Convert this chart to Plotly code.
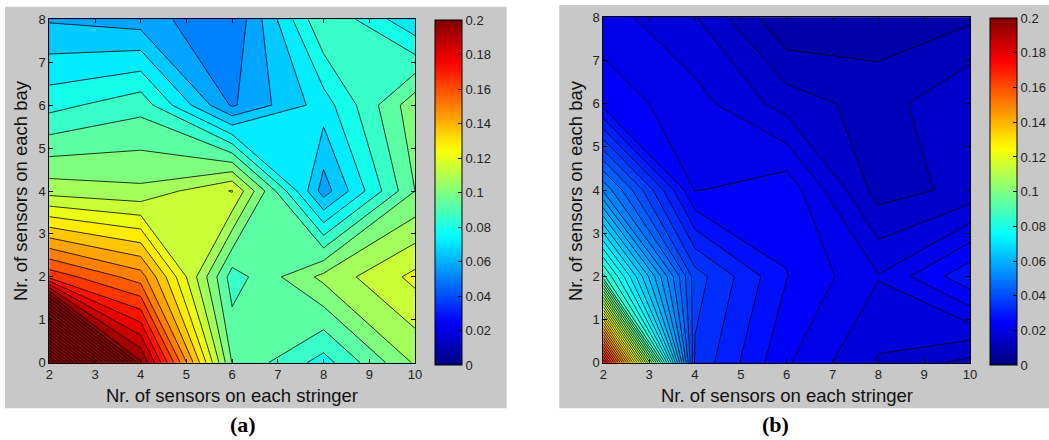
import numpy as np
import plotly.graph_objects as go

# ---------------- data ----------------
stringer_sensors = [2, 4, 6, 8, 10]          # x
bay_sensors = [0, 2, 4, 6, 8]                # y

# panel (a): rows follow bay_sensors (0, 2, 4, 6, 8)
za_bay0 = [0.350, 0.198, 0.0986, 0.082, 0.107]
za_bay2 = [0.1668, 0.1514, 0.0885, 0.108, 0.122]
za_bay4 = [0.110, 0.1076, 0.1205, 0.0605, 0.099]
za_bay6 = [0.0825, 0.0895, 0.056, 0.0745, 0.1037]
za_bay8 = [0.0632, 0.0605, 0.0505, 0.092, 0.072]

# panel (b)
zb_bay0 = [0.1744, 0.0361, 0.0244, 0.0172, 0.0134]
zb_bay2 = [0.0858, 0.0383, 0.0273, 0.0210, 0.0296]
zb_bay4 = [0.0522, 0.0238, 0.0262, 0.0130, 0.0153]
zb_bay6 = [0.0259, 0.0221, 0.0162, 0.0129, 0.0175]
zb_bay8 = [0.0223, 0.0178, 0.0082, 0.0094, 0.0106]

# contour levels (start, end, step)
levels_a = (0.043, 0.400, 0.007)
levels_b = (0.008, 0.200, 0.0032)

cbar_ticks = [0, 0.02, 0.04, 0.06, 0.08, 0.1, 0.12, 0.14, 0.16, 0.18, 0.2]
cbar_labels = ["0", "0.02", "0.04", "0.06", "0.08", "0.1", "0.12", "0.14", "0.16", "0.18", "0.2"]
x_ticks = [2, 3, 4, 5, 6, 7, 8, 9, 10]
y_ticks = [0, 1, 2, 3, 4, 5, 6, 7, 8]
x_title = "Nr. of sensors on each stringer"
y_title = "Nr. of sensors on each bay"
panel_labels = ["(a)", "(b)"]
CMIN, CMAX = 0.0, 0.2

# ---------------- helpers ----------------
W, H = 1049, 440


def jet(t):
    t = min(max(t, 0.0), 1.0)
    r = min(max(1.5 - abs(4 * t - 3), 0), 1)
    g = min(max(1.5 - abs(4 * t - 2), 0), 1)
    b = min(max(1.5 - abs(4 * t - 1), 0), 1)
    return "rgb(%d,%d,%d)" % (round(r * 255), round(g * 255), round(b * 255))


def jet_scale(n=64):
    return [[i / (n - 1), jet(i / (n - 1))] for i in range(n)]


def band_scale(start, end, size):
    # plotly fills the band above level L with colormap(L + size/2), the
    # colorscale spanning [start - size/2, end + size/2]; give each band the
    # jet colour of its lower level (MATLAB contourf behaviour)
    nc = int(np.floor((end + size * 1e-6 - start) / size)) + 1
    stops = [[0.0, jet((start - size - CMIN) / (CMAX - CMIN))]]
    for i in range(nc):
        lev = start + i * size
        stops.append([(i + 1) / (nc + 1), jet((lev - CMIN) / (CMAX - CMIN))])
    stops.append([1.0, jet((start + (nc - 1) * size - CMIN) / (CMAX - CMIN))])
    return stops


def px_x(p):
    return p / W


def px_y(p):
    return 1 - p / H


fig = go.Figure()

panels = [
    dict(z=[za_bay0, za_bay2, za_bay4, za_bay6, za_bay8], lev=levels_a,
         xd=(49.3, 415.0), yd=(19.3, 362.7), cb=(435.0, 20.0, 365.0),
         bg=(5, 6.7, 506.7, 408.3), xt=232, yt=20, lab=242.7),
    dict(z=[zb_bay0, zb_bay2, zb_bay4, zb_bay6, zb_bay8], lev=levels_b,
         xd=(603.3, 970.0), yd=(17.3, 362.7), cb=(990.0, 18.3, 365.0),
         bg=(559.3, 5, 1049, 408.3), xt=786.7, yt=575, lab=775.7),
]

shapes = []
annotations = []
tick_font = dict(family="Liberation Sans, Arial, sans-serif", size=13, color="#222222")
title_font = dict(family="Liberation Sans, Arial, sans-serif", size=18.5, color="#111111")

for k, p in enumerate(panels):
    sfx = "" if k == 0 else str(k + 1)
    start, end, size = p["lev"]
    fig.add_trace(go.Contour(
        x=stringer_sensors, y=bay_sensors, z=p["z"],
        xaxis="x" + sfx, yaxis="y" + sfx,
        autocontour=False,
        contours=dict(start=start, end=end, size=size, coloring="fill", showlines=True),
        colorscale=band_scale(start, end, size),
        line=dict(color="black", width=0.8, smoothing=0),
        showscale=False, hoverinfo="skip",
    ))
    # colorbar carrier (invisible marker)
    cbx, cbt, cbb = p["cb"]
    fig.add_trace(go.Scatter(
        x=[6], y=[4], mode="markers", xaxis="x" + sfx, yaxis="y" + sfx,
        marker=dict(size=1, opacity=0, color=[0.1], cmin=CMIN, cmax=CMAX,
                    colorscale=jet_scale(), showscale=True,
                    colorbar=dict(
                        x=px_x(cbx), xanchor="left", xpad=0,
                        y=px_y((cbt + cbb) / 2), yanchor="middle", ypad=0,
                        lenmode="pixels", len=cbb - cbt,
                        thicknessmode="pixels", thickness=27,
                        outlinewidth=1, outlinecolor="black",
                        ticks="inside", ticklen=4, tickcolor="black",
                        tickvals=cbar_ticks, ticktext=cbar_labels,
                        tickfont=tick_font,
                    )),
        hoverinfo="skip", showlegend=False,
    ))
    x0, x1 = p["xd"]
    y0, y1 = p["yd"]
    axis_common = dict(showline=True, linecolor="black", linewidth=1, mirror="ticks",
                       ticks="inside", ticklen=4, tickcolor="black", showgrid=False,
                       zeroline=False, tickfont=tick_font, automargin=False)
    fig.update_layout({
        "xaxis" + sfx: dict(domain=[px_x(x0), px_x(x1)], range=[2, 10], tickvals=x_ticks,
                            anchor="y" + sfx, **axis_common),
        "yaxis" + sfx: dict(domain=[px_y(y1), px_y(y0)], range=[0, 8], tickvals=y_ticks,
                            anchor="x" + sfx, **axis_common),
    })
    bx0, by0, bx1, by1 = p["bg"]
    shapes.append(dict(type="rect", xref="paper", yref="paper", layer="below",
                       x0=px_x(bx0), x1=px_x(bx1), y0=px_y(by1), y1=px_y(by0),
                       fillcolor="#c8c8c8", line=dict(width=0)))
    annotations.append(dict(text=x_title, xref="paper", yref="paper",
                            x=px_x(p["xt"]), y=px_y(395), xanchor="center", yanchor="middle",
                            showarrow=False, font=title_font))
    annotations.append(dict(text=y_title, xref="paper", yref="paper", textangle=-90,
                            x=px_x(p["yt"]), y=px_y(191), xanchor="center", yanchor="middle",
                            showarrow=False, font=title_font))
    annotations.append(dict(text="<b>%s</b>" % panel_labels[k], xref="paper", yref="paper",
                            x=px_x(p["lab"]), y=px_y(424), xanchor="center", yanchor="middle",
                            showarrow=False,
                            font=dict(family="Liberation Serif, Times New Roman, serif", size=22,
                                      color="black")))

fig.update_layout(width=W, height=H,
                  margin=dict(l=0, r=0, t=0, b=0, pad=0, autoexpand=False),
                  paper_bgcolor="white", plot_bgcolor="white",
                  shapes=shapes, annotations=annotations, showlegend=False)

fig.write_html("out.html", config={"responsive": False, "displayModeBar": False},
               post_script="document.body.style.margin='0px';document.body.style.overflow='hidden';")
